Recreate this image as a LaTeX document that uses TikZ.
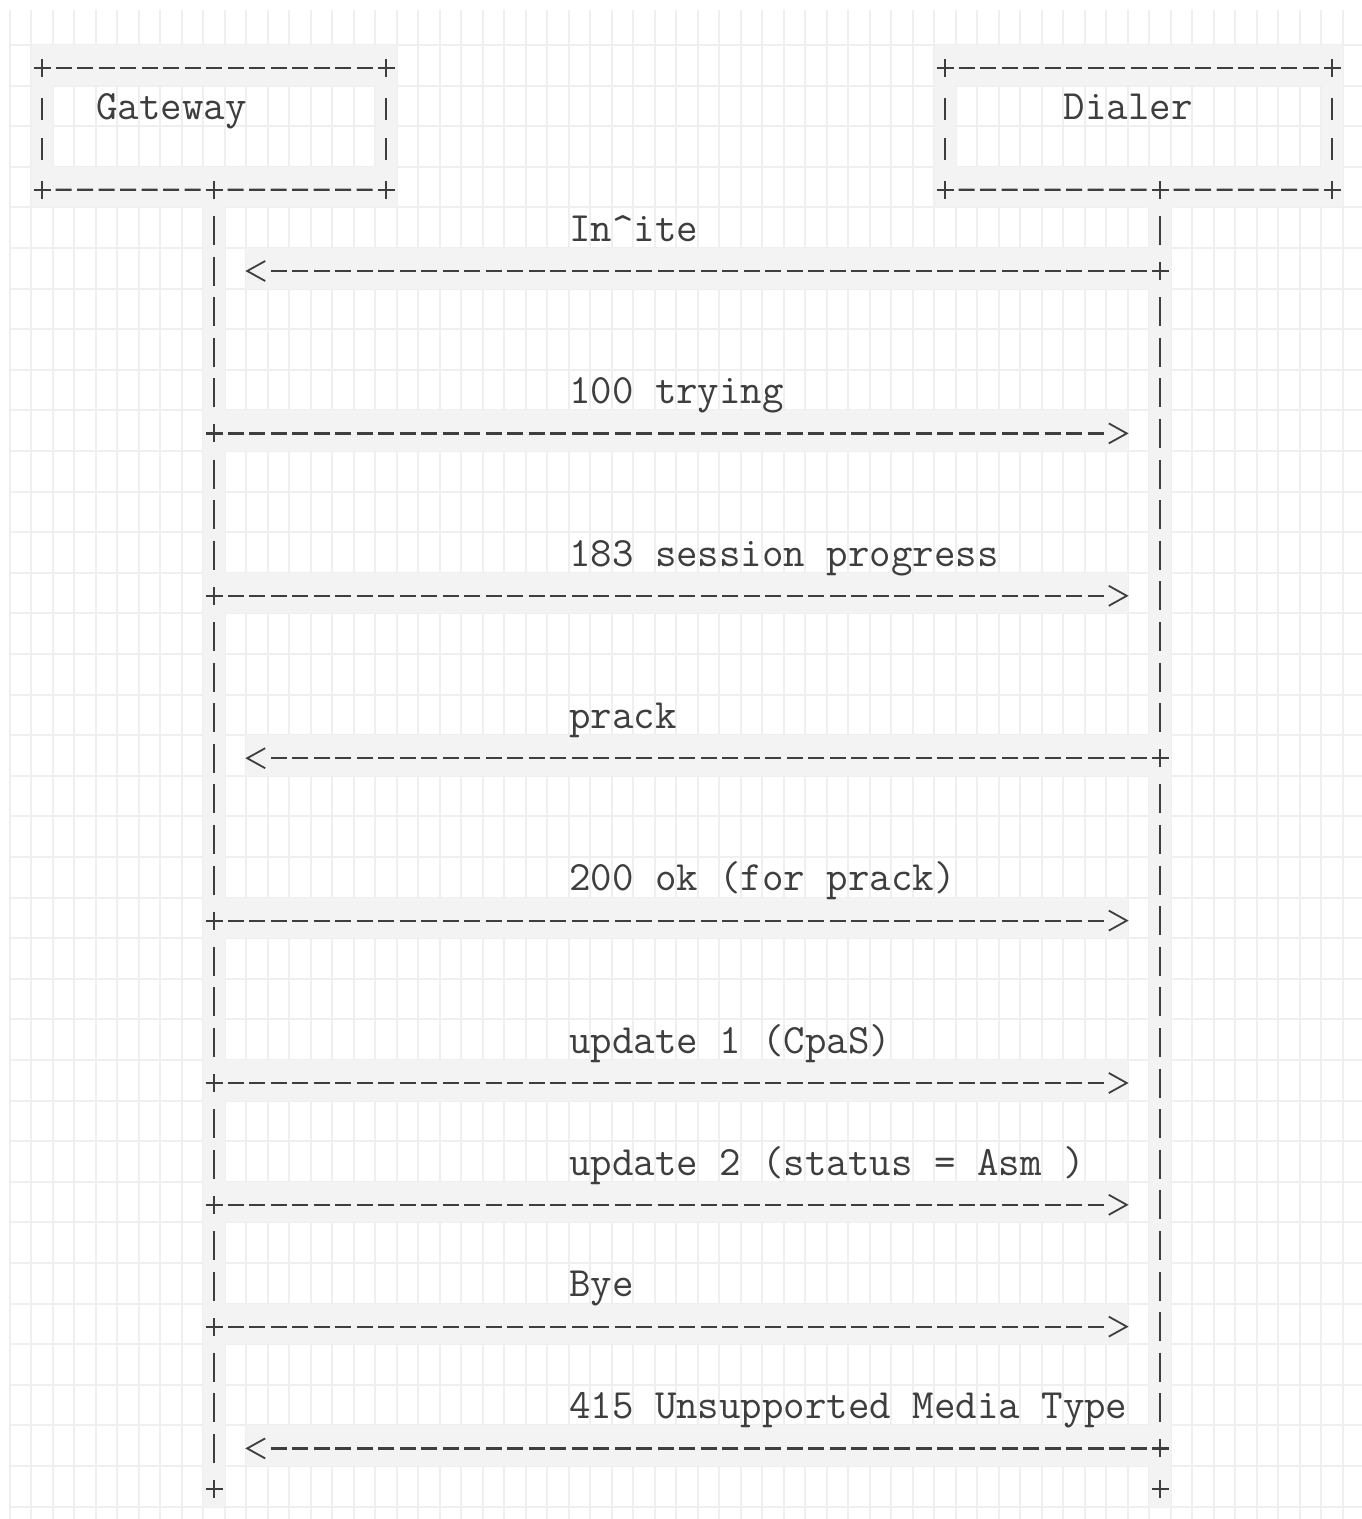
\documentclass[tikz,border=0pt]{standalone}
\usepackage{fontspec}
\usetikzlibrary{arrows.meta}
\definecolor{inkgray}{RGB}{62,62,62}
\definecolor{bandgray}{RGB}{243,243,243}
\definecolor{gridgray}{RGB}{239,239,239}

% open chevron tip, the line stops short of it
\pgfdeclarearrow{
  name = Chev,
  parameters = {\the\pgfarrowlength,\the\pgfarrowwidth},
  setup code = {
    \pgfarrowssettipend{0pt}
    \pgfarrowssetlineend{-10.75pt}
    \pgfarrowssetbackend{-\pgfarrowlength}
    \pgfarrowssavethe\pgfarrowlength
    \pgfarrowssavethe\pgfarrowwidth
  },
  drawing code = {
    \pgfsetdash{}{0pt}
    \pgfsetlinewidth{0.9pt}
    \pgfpathmoveto{\pgfqpoint{-\pgfarrowlength}{.5\pgfarrowwidth}}
    \pgfpathlineto{\pgfpointorigin}
    \pgfpathlineto{\pgfqpoint{-\pgfarrowlength}{-.5\pgfarrowwidth}}
    \pgfusepathqstroke
  },
  defaults = {length = 9pt, width = 10pt}
}

\begin{document}
\begin{tikzpicture}[
    x=10.75pt, y=-20.3pt,
    art/.style={draw=inkgray, line width=1.1pt},
    hline/.style={art, dash pattern=on 8pt off 2.75pt, shorten <=6.75pt, shorten >=6.75pt},
    vline/.style={art, line width=0.9pt, dash pattern=on 14.5pt off 5.8pt, shorten <=13.05pt, shorten >=13.05pt},
    vbox/.style={art, line width=0.9pt, dash pattern=on 11pt off 9.3pt, shorten <=14.8pt, shorten >=14.8pt},
    msg/.style={art, dash pattern=on 8pt off 2.75pt, shorten <=6.75pt, shorten >=16.6pt, -{Chev}},
    actor/.style={rectangle, inner sep=0pt, outer sep=0pt, minimum height=60.9pt},
    lbl/.style={anchor=base west, inner sep=0pt, text=inkgray, font=\fontsize{20.85pt}{24pt}\selectfont\ttfamily},
    jn/.pic={\draw[inkgray, line width=1.1pt] (-4.25pt,0) -- (4.25pt,0) (0,-4.5pt) -- (0,4.5pt);}
  ]
    \useasboundingbox[fill=white] (-1.9535,-1.675) rectangle (61.395,35.739);

    % grid paper
    \foreach \i in {0,...,62}
      \draw[gridgray, line width=1pt] (\i-1.5,-1.429) -- (\i-1.5,35.739);
    \foreach \k in {0,...,36}
      \draw[gridgray, line width=1pt] (-1.488,\k-0.567) -- (61.395,\k-0.567);

    % shaded cells behind the line art
    \fill[bandgray, even odd rule] (-0.5,-0.567) rectangle (16.5,3.433) (0.5,0.433) rectangle (15.5,2.433);
    \fill[bandgray, even odd rule] (41.5,-0.567) rectangle (60.5,3.433) (42.5,0.433) rectangle (59.5,2.433);
    \fill[bandgray] (7.5,3.433) rectangle (8.5,35.433);
    \fill[bandgray] (51.5,3.433) rectangle (52.5,35.433);
    \foreach \k in {9,13,21,25,28,31}
      \fill[bandgray] (7.5,\k-0.567) rectangle (50.5,\k+0.433);
    \foreach \k in {5,17,34}
      \fill[bandgray] (9.5,\k-0.567) rectangle (52.5,\k+0.433);

    % actors
    \node[actor, minimum width=172pt] (gw) at (8,1.5) {};
    \node[actor, minimum width=193.5pt] (dl) at (51,1.5) {};
    \node[lbl] (gwname) at (2.5,1.27) {Gateway};
    \node[lbl] (dlname) at (47.5,1.27) {Dialer};

    \foreach \k in {3,...,35} {
      \coordinate (g\k) at (8,\k);
      \coordinate (d\k) at (52,\k);
    }

    \draw[hline] (gw.north west) -- (gw.north east);
    \draw[hline] (gw.south west) -- (g3);
    \draw[hline] (g3) -- (gw.south east);
    \draw[vbox] (gw.north west) -- (gw.south west);
    \draw[vbox] (gw.north east) -- (gw.south east);
    \draw[hline] (dl.north west) -- (dl.north east);
    \draw[hline] (dl.south west) -- (d3);
    \draw[hline] (d3) -- (dl.south east);
    \draw[vbox] (dl.north west) -- (dl.south west);
    \draw[vbox] (dl.north east) -- (dl.south east);

    % lifelines
    \foreach \a/\b in {3/9,9/13,13/21,21/25,25/28,28/31,31/35}
      \draw[vline] (g\a) -- (g\b);
    \foreach \a/\b in {3/5,5/17,17/34}
      \draw[vline] (d\a) -- (d\b);

    % messages
    \foreach \k in {9,13,21,25,28,31}
      \draw[msg] (g\k) -- (d\k);
    \foreach \k in {5,17,34}
      \draw[msg] (d\k) -- (g\k);

    \foreach \p in {gw.north west,gw.north east,gw.south west,gw.south east,
                    dl.north west,dl.north east,dl.south west,dl.south east,
                    g3,g9,g13,g21,g25,g28,g31,g35,d3,d5,d17,d34,d35}
      \pic at (\p) {jn};

    \foreach \k/\txt in {4/In\textasciicircum ite, 8/100 trying, 12/183 session progress,
                        16/prack, 20/200 ok (for prack), 24/update 1 (CpaS),
                        27/update 2 (status = Asm ), 30/Bye, 33/415 Unsupported Media Type}
      \node[lbl] (m\k) at (24.5,\k+0.27) {\txt};
\end{tikzpicture}
\end{document}
